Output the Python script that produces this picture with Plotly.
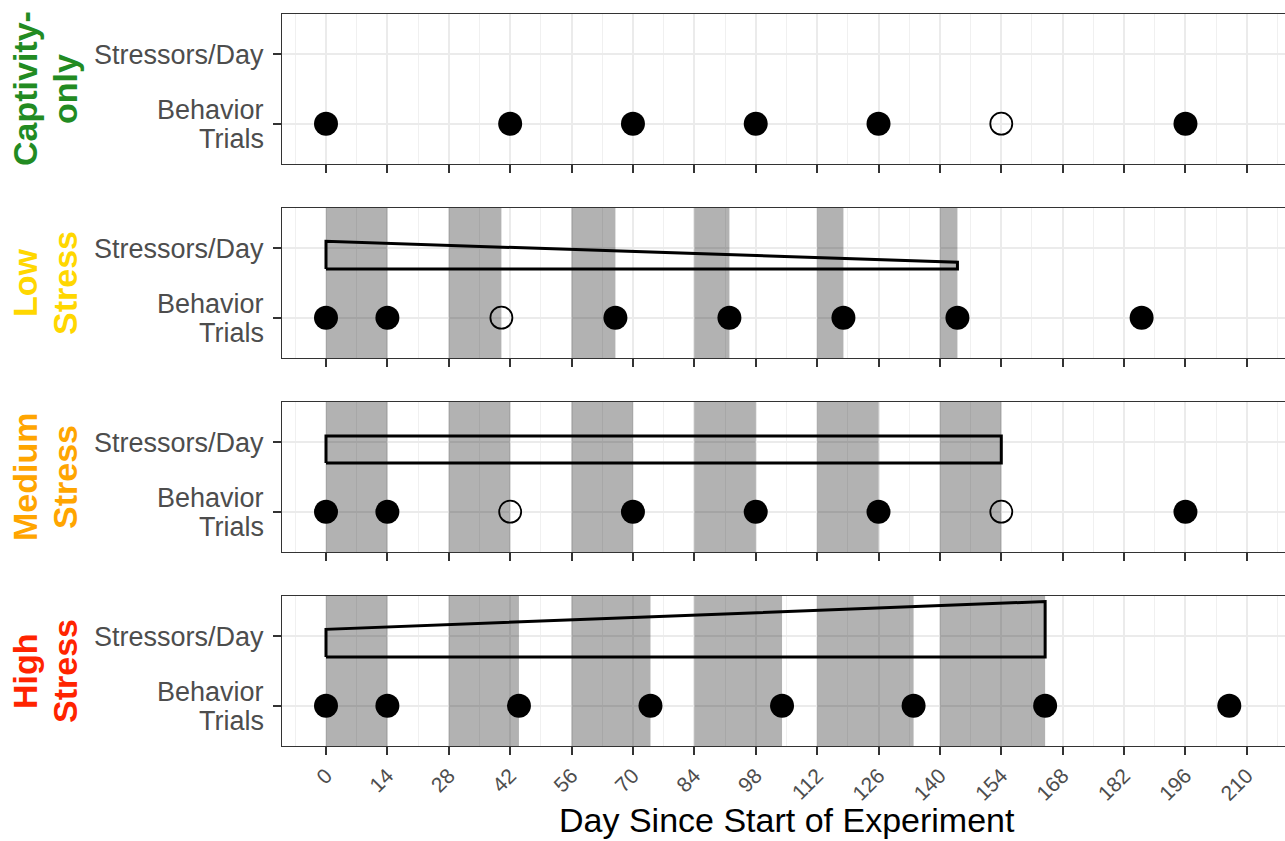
import plotly.graph_objects as go

# ---------------- data ----------------
panel_line1 = ["Captivity-", "Low", "Medium", "High"]
panel_line2 = ["only", "Stress", "Stress", "Stress"]
panel_colors = ["#228B22", "#FFD700", "#FFA500", "#FF2400"]

y_label_top = "Stressors/Day"
y_label_bottom = ["Behavior", "Trials"]
x_ticks = [0, 14, 28, 42, 56, 70, 84, 98, 112, 126, 140, 154, 168, 182, 196, 210]

# stress periods (start / end day)
shade_start = [
    [],
    [0, 28, 56, 84, 112, 140],
    [0, 28, 56, 84, 112, 140],
    [0, 28, 56, 84, 112, 140],
]
shade_end = [
    [],
    [14, 40, 66, 92, 118, 144],
    [14, 42, 70, 98, 126, 154],
    [14, 44, 74, 104, 134, 164],
]

# behavior trial days and which trials were missed (open circles)
trial_days = [
    [0, 42, 70, 98, 126, 154, 196],
    [0, 14, 40, 66, 92, 118, 144, 186],
    [0, 14, 42, 70, 98, 126, 154, 196],
    [0, 14, 44, 74, 104, 134, 164, 206],
]
trial_open = [
    [154],
    [40],
    [42, 154],
    [],
]

# stressors/day wedge: end day, bottom, top at start, top at end
wedge_end = [None, 144, 154, 164]
wedge_bottom = [None, 1.70, 1.70, 1.70]
wedge_top_start = [None, 2.10, 2.09, 2.10]
wedge_top_end = [None, 1.80, 2.09, 2.50]

# ---------------- layout helpers ----------------
W, H = 1285, 841
panel_left = 282
panel_tops = [14, 208, 402, 596]
panel_h = 150
x_range = [(panel_left - 326) / 4.385, (W - 326) / 4.385]
y_range = [0.42, 2.58]

fig = go.Figure()
FONT = "Liberation Sans, Arial, Helvetica, sans-serif"
axis_dark = "#333333"
tick_grey = "#4d4d4d"

for i in range(4):
    xa = "x" if i == 0 else f"x{i+1}"
    ya = "y" if i == 0 else f"y{i+1}"

    # shaded stress periods
    for s, e in zip(shade_start[i], shade_end[i]):
        fig.add_trace(go.Scatter(
            x=[s, e, e, s, s], y=[y_range[0], y_range[0], y_range[1], y_range[1], y_range[0]],
            mode="lines", fill="toself", fillcolor="rgba(0,0,0,0.30)",
            line=dict(width=0), hoverinfo="skip", showlegend=False,
            xaxis=xa, yaxis=ya))

    # stressor wedge
    if wedge_end[i] is not None:
        e = wedge_end[i]
        fig.add_trace(go.Scatter(
            x=[0, 0, e, e, 0],
            y=[wedge_bottom[i], wedge_top_start[i], wedge_top_end[i], wedge_bottom[i], wedge_bottom[i]],
            mode="lines", line=dict(color="black", width=3), hoverinfo="skip",
            showlegend=False, xaxis=xa, yaxis=ya))

    filled = [d for d in trial_days[i] if d not in trial_open[i]]
    opened = [d for d in trial_days[i] if d in trial_open[i]]
    fig.add_trace(go.Scatter(
        x=filled, y=[1] * len(filled), mode="markers",
        marker=dict(symbol="circle", size=24, color="black", line=dict(width=0)),
        showlegend=False, xaxis=xa, yaxis=ya))
    if opened:
        fig.add_trace(go.Scatter(
            x=opened, y=[1] * len(opened), mode="markers",
            marker=dict(symbol="circle-open", size=22, color="black", line=dict(width=1.8)),
            showlegend=False, xaxis=xa, yaxis=ya))

    top = panel_tops[i]
    dom_y = [1 - (top + panel_h) / H, 1 - top / H]
    xkey = "xaxis" if i == 0 else f"xaxis{i+1}"
    ykey = "yaxis" if i == 0 else f"yaxis{i+1}"
    fig.layout[xkey] = dict(
        domain=[panel_left / W, 1.0], range=x_range, anchor=ya,
        tickmode="array", tickvals=x_ticks, ticktext=[str(v) for v in x_ticks],
        showticklabels=(i == 3), tickangle=-45,
        tickfont=dict(family=FONT, size=21, color=tick_grey),
        ticks="outside", ticklen=8, tickwidth=2, tickcolor=axis_dark,
        showline=True, mirror=True, linecolor=axis_dark, linewidth=1.3,
        showgrid=True, gridcolor="#ebebeb", gridwidth=1.8,
        minor=dict(tickmode="array", tickvals=[v + 7 for v in [-14] + x_ticks],
                   showgrid=True, gridcolor="#f0f0f0", gridwidth=1, ticks=""),
        zeroline=False, fixedrange=True,
    )
    fig.layout[ykey] = dict(
        domain=dom_y, range=y_range, anchor=xa,
        tickmode="array", tickvals=[1, 2], ticktext=["", ""],
        ticks="outside", ticklen=8, tickwidth=2, tickcolor=axis_dark,
        showline=True, mirror=False, linecolor=axis_dark, linewidth=1.3,
        showgrid=True, gridcolor="#ebebeb", gridwidth=2,
        zeroline=False, fixedrange=True,
    )

    # y category labels (tight line spacing like the reference)
    lab_x = 266 / W
    fig.add_annotation(text=y_label_top, xref="paper", yref=ya, x=lab_x, y=2,
                       xanchor="right", yanchor="middle", showarrow=False, yshift=-1,
                       font=dict(family=FONT, size=27, color=tick_grey))
    fig.add_annotation(text=y_label_bottom[0], xref="paper", yref=ya, x=lab_x, y=1,
                       xanchor="right", yanchor="middle", showarrow=False, yshift=14,
                       font=dict(family=FONT, size=27, color=tick_grey))
    fig.add_annotation(text=y_label_bottom[1], xref="paper", yref=ya, x=lab_x, y=1,
                       xanchor="right", yanchor="middle", showarrow=False, yshift=-15,
                       font=dict(family=FONT, size=27, color=tick_grey))

    # facet strip label (two rotated lines)
    yc = 1 - (top + panel_h / 2) / H
    for txt, xc in ((panel_line1[i], 25), (panel_line2[i], 65)):
        fig.add_annotation(
            text=f"<b>{txt}</b>", textangle=-90,
            xref="paper", yref="paper", x=xc / W, y=yc,
            xanchor="center", yanchor="middle", showarrow=False,
            font=dict(family=FONT, size=34, color=panel_colors[i]))

fig.add_annotation(
    text="Day Since Start of Experiment", xref="paper", yref="paper",
    x=787 / W, y=0, xanchor="center", yanchor="bottom", showarrow=False,
    font=dict(family=FONT, size=34, color="black"))

fig.update_layout(
    width=W, height=H, margin=dict(l=0, r=0, t=0, b=0),
    paper_bgcolor="white", plot_bgcolor="white", showlegend=False,
)

fig.write_html("out.html", config={"displayModeBar": False},
               post_script="document.body.style.margin='0';document.body.style.padding='0';")
